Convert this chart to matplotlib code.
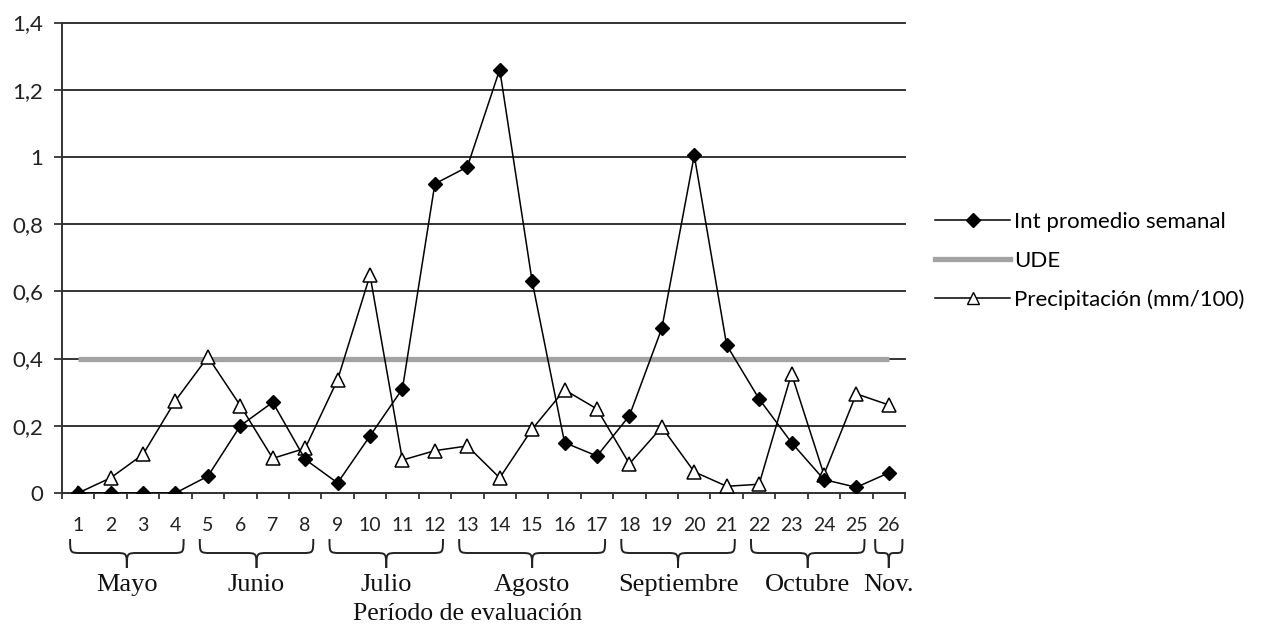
import matplotlib
matplotlib.use("Agg")
import matplotlib.pyplot as plt
from matplotlib.path import Path
from matplotlib.patches import PathPatch
from matplotlib.lines import Line2D
import matplotlib.transforms as mtransforms

# ---------------- data ----------------
weeks = list(range(1, 27))
int_promedio = [0, 0, 0, 0, 0.05, 0.20, 0.27, 0.10, 0.03, 0.17, 0.31, 0.92, 0.97,
                1.26, 0.63, 0.15, 0.11, 0.23, 0.49, 1.005, 0.44, 0.28, 0.15, 0.04,
                0.017, 0.06]
precipitacion = [0, 0.045, 0.115, 0.275, 0.405, 0.26, 0.103, 0.133, 0.337, 0.648,
                 0.098, 0.126, 0.14, 0.045, 0.19, 0.307, 0.25, 0.087, 0.196, 0.063,
                 0.02, 0.026, 0.355, 0.055, 0.295, 0.262]
ude = [0.4] * 26
yticks = [0, 0.2, 0.4, 0.6, 0.8, 1.0, 1.2, 1.4]
ytick_labels = ["0", "0,2", "0,4", "0,6", "0,8", "1", "1,2", "1,4"]
months = ["Mayo", "Junio", "Julio", "Agosto", "Septiembre", "Octubre", "Nov."]
month_start = [1, 5, 9, 13, 18, 22, 26]
month_end = [4, 8, 12, 17, 21, 25, 26]
series_labels = ["Int promedio semanal", "UDE", "Precipitación (mm/100)"]
xlabel = "Período de evaluación"

# ---------------- figure ----------------
W, H = 1261, 625
fig = plt.figure(figsize=(W / 100, H / 100), dpi=100)
ax = fig.add_axes([62 / W, 1 - 493 / H, (905 - 62) / W, (493 - 22.5) / H])

sans = ["Lato", "DejaVu Sans"]
serif = ["Liberation Serif", "DejaVu Serif"]

ax.plot(weeks, ude, color="#a3a3a3", lw=3.8, solid_capstyle="butt", zorder=3,
        label=series_labels[1])
ax.plot(weeks, int_promedio, color="black", lw=1.1, marker="D", markersize=7.5,
        markerfacecolor="black", markeredgecolor="black", zorder=5,
        label=series_labels[0])
ax.plot(weeks, precipitacion, color="black", lw=1.1, marker="^", markersize=10,
        markerfacecolor="white", markeredgecolor="black", markeredgewidth=1.1,
        zorder=4, label=series_labels[2])

ax.set_xlim(0.5, 26.5)
ax.set_ylim(0, 1.4)

ax.set_yticks(yticks)
ax.set_yticklabels(ytick_labels, family=sans, fontsize=16, color="#222222")
ax.tick_params(axis="y", direction="out", length=5.8, width=1.3, pad=7.5,
               color="#333333")

ax.set_xticks(weeks)
ax.set_xticklabels([str(w) for w in weeks], family=sans, fontsize=14, color="#222222")
ax.set_xticks([w + 0.5 for w in [0] + weeks], minor=True)
ax.tick_params(axis="x", which="major", length=0, pad=17)
ax.tick_params(axis="x", which="minor", direction="out", length=4.5, width=1.3,
               color="#333333")

ax.yaxis.grid(True, color="#333333", lw=1.4)
for gl in ax.get_ygridlines():
    gl.set_clip_on(False)
ax.set_axisbelow(True)
for s in ["top", "right"]:
    ax.spines[s].set_visible(False)
ax.spines["left"].set_color("#333333")
ax.spines["left"].set_linewidth(1.4)
ax.spines["bottom"].set_color("#333333")
ax.spines["bottom"].set_linewidth(1.4)

# ---------------- braces ----------------
trans = mtransforms.blended_transform_factory(ax.transData, fig.transFigure)
y0 = 1 - 539 / H
y1 = 1 - 553 / H
y2 = 1 - 568 / H
for s, e, name in zip(month_start, month_end, months):
    pad = 0.25 if s != e else 0.42
    a, b = s - pad, e + pad
    c = (a + b) / 2
    r = min(0.35, (b - a) / 4)
    verts = [(a, y0), (a, y1), (a, y1), (a + r, y1), (c - r, y1),
             (c, y1), (c, y1), (c, y2)]
    codes = [Path.MOVETO, Path.CURVE4, Path.CURVE4, Path.CURVE4, Path.LINETO,
             Path.CURVE4, Path.CURVE4, Path.CURVE4]
    verts2 = [(b, y0), (b, y1), (b, y1), (b - r, y1), (c + r, y1),
              (c, y1), (c, y1), (c, y2)]
    for v in (verts, verts2):
        ax.add_patch(PathPatch(Path(v, codes), transform=trans, fill=False,
                               lw=1.4, edgecolor="#222222", clip_on=False))
    ax.text(c, 1 - 585 / H, name, transform=trans, ha="center", va="center",
            family=serif, fontsize=19, color="#111111")

fig.text(468 / W, 1 - 614 / H, xlabel, ha="center", va="center",
         family=serif, fontsize=18.5, color="#111111")

# ---------------- legend ----------------
handles = [
    Line2D([], [], color="black", lw=1.1, marker="D", markersize=7),
    Line2D([], [], color="#a3a3a3", lw=3.8),
    Line2D([], [], color="black", lw=1.1, marker="^", markersize=8,
           markerfacecolor="white", markeredgecolor="black"),
]
fig.legend(handles, series_labels, loc="center left",
           bbox_to_anchor=(926 / W, 1 - 261 / H), frameon=False,
           prop={"family": sans, "size": 16}, handlelength=3.4,
           handletextpad=0.15, labelspacing=0.85, borderaxespad=0)

fig.savefig("out.png", dpi=100)
